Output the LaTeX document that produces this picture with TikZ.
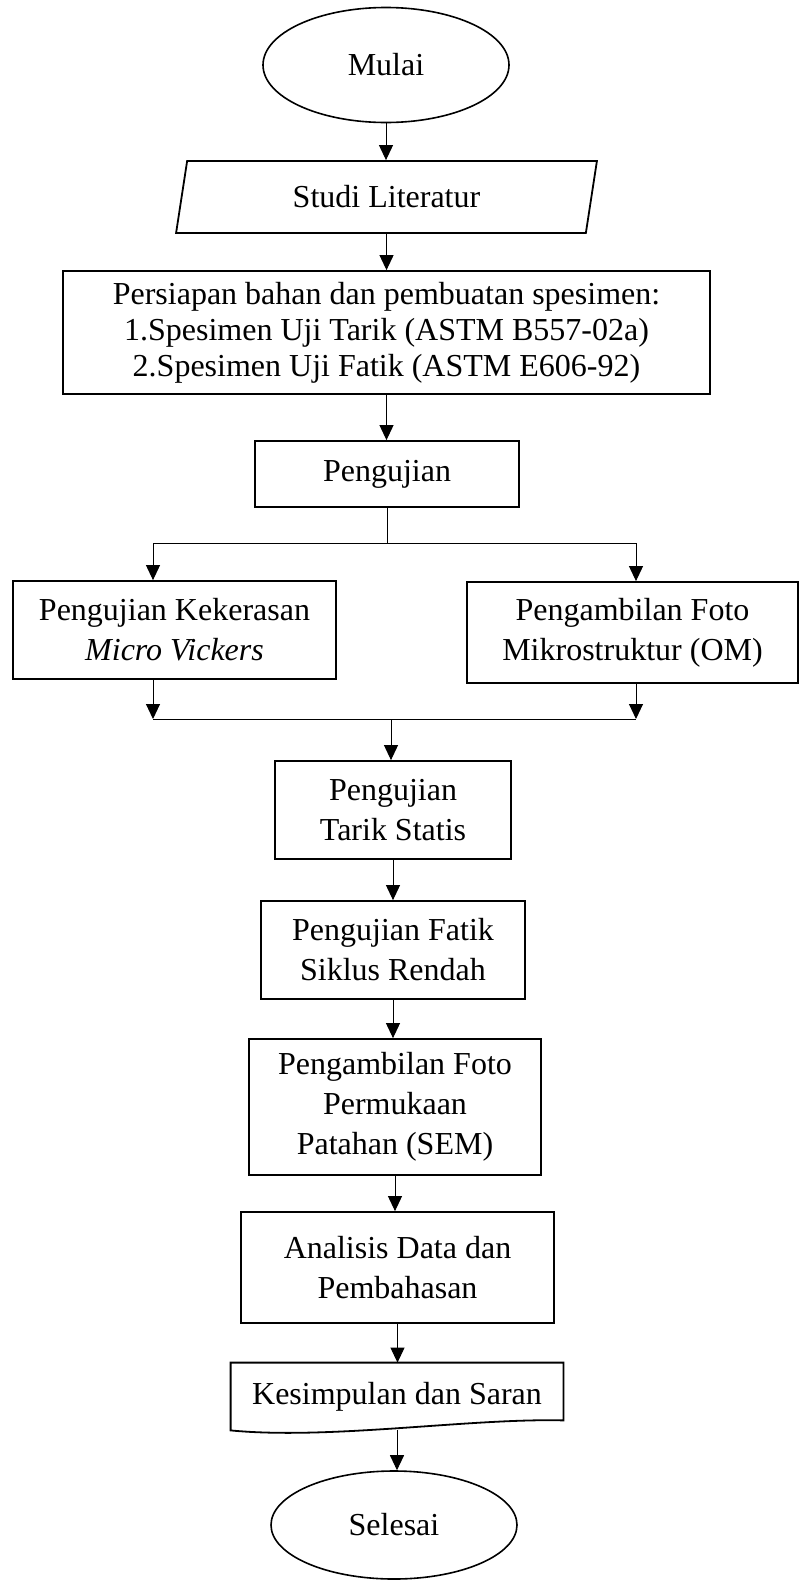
\documentclass[tikz,border=0pt]{standalone}
\usepackage{fontspec}
\setmainfont{Liberation Serif}
\usetikzlibrary{shapes.geometric,arrows.meta,calc}
\begin{document}
\begin{tikzpicture}[x=0.5pt,y=0.5pt,
  every node/.style={font=\fontsize{16}{20}\selectfont,align=center,inner sep=0pt},
  box/.style={draw,line width=0.9pt,rectangle},
  term/.style={draw,line width=0.8pt,ellipse,minimum width=123pt,inner sep=0pt},
  link/.style={line width=0.5pt},
  arr/.style={link,-{Triangle[length=7.5pt,width=7pt]}}]
  \useasboundingbox (0,0) rectangle (800,-1580);
  \node[term,minimum height=57.5pt] (mulai) at (386,-65) {Mulai};
  \node[draw,line width=0.9pt,trapezium,trapezium left angle=77,trapezium right angle=103,
        trapezium stretches=true,minimum width=210.5pt,minimum height=36pt] (studi) at (386.5,-197) {Studi Literatur};
  \node[box,minimum width=323.5pt,minimum height=61.5pt,font=\fontsize{16}{18}\selectfont] (persiapan) at (386.5,-332.5)
    {Persiapan bahan dan pembuatan spesimen:\\1.Spesimen Uji Tarik (ASTM B557-02a)\\2.Spesimen Uji Fatik (ASTM E606-92)};
  \node[box,minimum width=132pt,minimum height=33pt] (pengujian) at (387,-474) {Pengujian};
  \node[box,minimum width=161.5pt,minimum height=49pt] (kekerasan) at (174.5,-630) {Pengujian Kekerasan\\\textit{Micro Vickers}};
  \node[box,minimum width=165.5pt,minimum height=50.5pt] (mikro) at (632.5,-632.5) {Pengambilan Foto\\Mikrostruktur (OM)};
  \node[box,minimum width=118pt,minimum height=49pt] (tarik) at (393,-810) {Pengujian\\Tarik Statis};
  \node[box,minimum width=132pt,minimum height=49pt] (fatik) at (393,-950) {Pengujian Fatik\\Siklus Rendah};
  \node[box,minimum width=146pt,minimum height=68pt] (foto) at (395,-1107) {Pengambilan Foto\\Permukaan\\Patahan (SEM)};
  \node[box,minimum width=156.5pt,minimum height=55.5pt] (analisis) at (397.5,-1267.5) {Analisis Data dan\\Pembahasan};
  \node[minimum width=166pt,minimum height=33.5pt] (kes) at (397,-1396.5) {Kesimpulan dan Saran};
  \node[term,minimum height=54pt] (selesai) at (394,-1525) {Selesai};
  \draw[line width=0.9pt] (kes.north west) -- (kes.north east) -- ($(kes.south east)+(0,10)$)
    .. controls (470,-1418) and (330,-1440) .. (kes.south west) -- cycle;

  \coordinate (bl) at (153,-543);
  \coordinate (br) at (636,-543);
  \coordinate (ml) at (153,-719);
  \coordinate (mr) at (636,-719);
  \coordinate (mc) at (391,-719);

  \foreach \a/\b in {mulai/studi,studi/persiapan,persiapan/pengujian,tarik/fatik,fatik/foto,foto/analisis,analisis/kes,kes/selesai}
    \draw[arr] (\a.south) -- (\a.south |- \b.north);
  \draw[link] (pengujian.south) -- (pengujian.south |- bl);
  \draw[link] (bl) -- (br);
  \draw[arr] (bl) -- (bl |- kekerasan.north);
  \draw[arr] (br) -- (br |- mikro.north);
  \draw[arr] (kekerasan.south -| ml) -- (ml);
  \draw[arr] (mikro.south -| mr) -- (mr);
  \draw[link] (ml) -- (mr);
  \draw[arr] (mc) -- (mc |- tarik.north);
\end{tikzpicture}
\end{document}
